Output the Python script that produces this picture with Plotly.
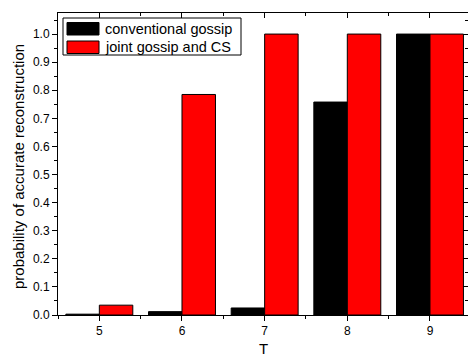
import plotly.graph_objects as go

T_values = [5, 6, 7, 8, 9]
conventional = [0.003, 0.012, 0.025, 0.758, 1.0]
joint = [0.035, 0.785, 1.0, 1.0, 1.0]
series_names = ["conventional gossip", "joint gossip and CS"]
series_colors = ["#000000", "#ff0000"]
y_tick_vals = [0.0, 0.1, 0.2, 0.3, 0.4, 0.5, 0.6, 0.7, 0.8, 0.9, 1.0]
x_title = "T"
y_title = "probability of accurate reconstruction"

FONT = "Liberation Sans, Arial, sans-serif"
W, H = 468, 358
L, R, TOP, B = 58, 0, 13, 43
XR = [4.5, 9.46]
YR = [0, 1.075]

fig = go.Figure()
for name, vals, col in zip(series_names, [conventional, joint], series_colors):
    fig.add_trace(go.Bar(x=T_values, y=vals, name=name, marker=dict(color=col, line=dict(color="#000000", width=1)),
                         showlegend=False))
# helper trace for top/right inner ticks
fig.add_trace(go.Scatter(x=[None], y=[None], xaxis="x2", yaxis="y2", showlegend=False, hoverinfo="skip"))

axis_font = dict(family=FONT, size=12, color="#000")
fig.update_layout(
    width=W, height=H,
    margin=dict(l=L, r=R, t=TOP, b=B, pad=0, autoexpand=False),
    paper_bgcolor="white", plot_bgcolor="white",
    barmode="group", bargap=0.19, bargroupgap=0,
    xaxis=dict(range=XR, tickmode="array", tickvals=T_values, ticks="outside", ticklen=5, tickwidth=1,
               tickcolor="#000", showline=True, linecolor="#000", linewidth=1, mirror=True,
               showgrid=False, zeroline=False, tickfont=axis_font, automargin=False,
               minor=dict(ticks="outside", ticklen=3, dtick=0.5, tick0=4.5, tickcolor="#000", showgrid=False)),
    yaxis=dict(range=YR, tickmode="array", tickvals=y_tick_vals, tickformat=".1f", ticks="outside", ticklen=5,
               tickwidth=1, tickcolor="#000", showline=True, linecolor="#000", linewidth=1, mirror=True,
               showgrid=False, zeroline=False, tickfont=axis_font, automargin=False,
               minor=dict(ticks="outside", ticklen=3, dtick=0.05, tick0=0, tickcolor="#000", showgrid=False)),
    xaxis2=dict(range=XR, overlaying="x", side="top", anchor="y", tickmode="array", tickvals=T_values,
                ticks="inside", ticklen=5, tickcolor="#000", showticklabels=False, showgrid=False, zeroline=False,
                showline=False, automargin=False,
                minor=dict(ticks="inside", ticklen=3, dtick=0.5, tick0=4.5, tickcolor="#000", showgrid=False)),
    yaxis2=dict(range=YR, overlaying="y", side="right", anchor="x", tickmode="array", tickvals=y_tick_vals,
                ticks="inside", ticklen=5, tickcolor="#000", showticklabels=False, showgrid=False, zeroline=False,
                showline=False, automargin=False,
                minor=dict(ticks="inside", ticklen=3, dtick=0.05, tick0=0, tickcolor="#000", showgrid=False)),
)

pw = W - L - R
ph = H - TOP - B
def px(x):
    return (x - L) / pw
def py(y):
    return (H - B - y) / ph

# axis titles
fig.add_annotation(xref="paper", yref="paper", x=px(263), y=py(358), text=x_title, showarrow=False,
                   xanchor="center", yanchor="bottom", borderpad=0, font=dict(family=FONT, size=15, color="#000"))
fig.add_annotation(xref="paper", yref="paper", x=px(19), y=py(167), text=y_title, showarrow=False, textangle=-90,
                   xanchor="center", yanchor="middle", font=dict(family=FONT, size=15, color="#000"))

# legend drawn as shapes + text
fig.add_shape(type="rect", xref="paper", yref="paper", x0=px(63), x1=px(241), y0=py(55), y1=py(18),
              line=dict(color="#000", width=1), fillcolor="white", layer="above")
rows = [(22.5, 35), (41, 53.5)]
for (y0, y1), name, col in zip(rows, series_names, series_colors):
    fig.add_shape(type="rect", xref="paper", yref="paper", x0=px(67), x1=px(99), y0=py(y1), y1=py(y0),
                  line=dict(color="#000", width=1), fillcolor=col, layer="above")
    fig.add_annotation(xref="paper", yref="paper", x=px(103), y=py((y0 + y1) / 2), text=name, showarrow=False,
                       xanchor="left", yanchor="middle", font=dict(family=FONT, size=14.5, color="#000"))

fig.write_html("out.html", config={"displayModeBar": False},
               post_script="document.body.style.margin='0';document.body.style.overflow='hidden';")
